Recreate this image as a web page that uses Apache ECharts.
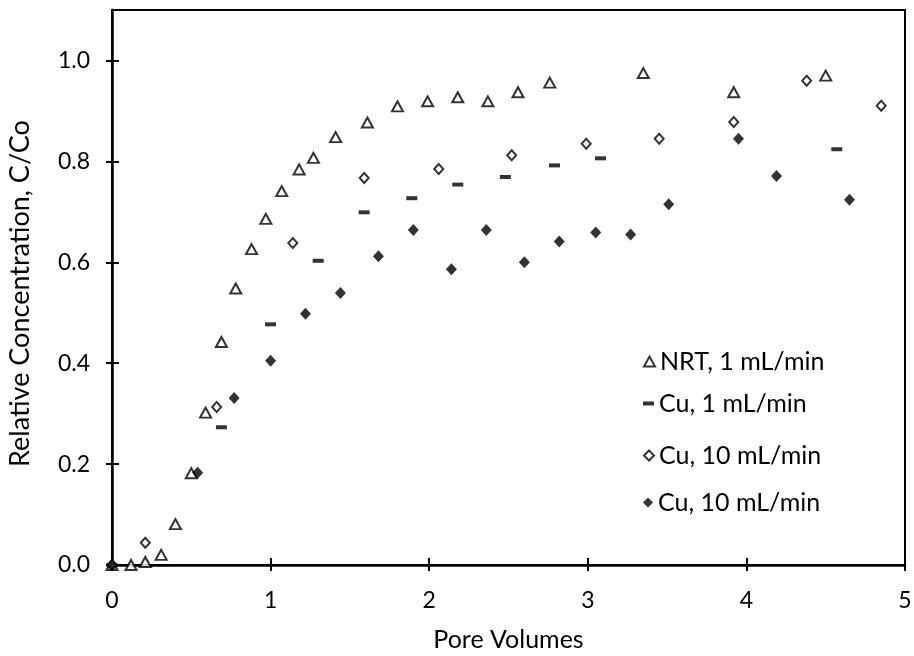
<!DOCTYPE html>
<html>
<head>
<meta charset="utf-8">
<script src="https://cdn.jsdelivr.net/npm/echarts@6/dist/echarts.min.js"></script>
<style>html,body{margin:0;padding:0;background:#fff;}#c{width:914px;height:656px;}</style>
</head>
<body>
<div id="c"></div>
<script>
const seriesNames = ['NRT, 1 mL/min', 'Cu, 1 mL/min', 'Cu, 10 mL/min', 'Cu, 10 mL/min '];
const xTicks = [0, 1, 2, 3, 4, 5];
const yTicks = [0.0, 0.2, 0.4, 0.6, 0.8, 1.0];

const nrtX = [0.00, 0.12, 0.21, 0.31, 0.40, 0.50, 0.59, 0.69, 0.78, 0.88, 0.97, 1.07, 1.18, 1.27, 1.41, 1.61, 1.80, 1.99, 2.18, 2.37, 2.56, 2.76, 3.35, 3.92, 4.50];
const nrtY = [0.00, 0.00, 0.006, 0.020, 0.081, 0.182, 0.302, 0.442, 0.548, 0.626, 0.686, 0.741, 0.784, 0.807, 0.848, 0.877, 0.909, 0.919, 0.927, 0.919, 0.937, 0.956, 0.975, 0.937, 0.970];

const cu1X = [0.00, 0.69, 1.00, 1.30, 1.59, 1.89, 2.18, 2.48, 2.79, 3.08, 4.57];
const cu1Y = [0.00, 0.273, 0.477, 0.603, 0.699, 0.727, 0.754, 0.769, 0.792, 0.806, 0.824];

const cu10aX = [0.00, 0.21, 0.66, 1.14, 1.59, 2.06, 2.52, 2.99, 3.45, 3.92, 4.38, 4.85];
const cu10aY = [0.00, 0.044, 0.313, 0.638, 0.767, 0.785, 0.812, 0.835, 0.845, 0.878, 0.960, 0.910];

const cu10bX = [0.00, 0.54, 0.77, 1.00, 1.22, 1.44, 1.68, 1.90, 2.14, 2.36, 2.60, 2.82, 3.05, 3.27, 3.51, 3.95, 4.19, 4.65];
const cu10bY = [0.00, 0.183, 0.331, 0.405, 0.498, 0.539, 0.612, 0.664, 0.586, 0.664, 0.600, 0.641, 0.659, 0.655, 0.715, 0.845, 0.771, 0.724];

const zip = (xs, ys) => xs.map((x, i) => [x, ys[i]]);
const FONT = 'Lato';

const gridBox = {left: 112, right: 9, top: 10, bottom: 91, outerBoundsMode: 'none', containLabel: false};

const chart = echarts.init(document.getElementById('c'), null, {renderer: 'canvas'});

function legendAt(top, name, w, h) {
  return {
    data: [name], left: 638, top: top, orient: 'vertical',
    itemWidth: w, itemHeight: h, itemGap: 0,
    textStyle: {fontFamily: FONT, fontSize: 25, color: '#000'},
    formatter: n => n.trim(), selectedMode: false
  };
}

chart.setOption({
  animation: false,
  backgroundColor: '#fff',
  grid: [
    Object.assign({show: true, borderColor: '#000', borderWidth: 2, backgroundColor: 'transparent'}, gridBox),
    Object.assign({show: false}, gridBox)
  ],
  legend: [
    legendAt(344, seriesNames[0], 11, 10),
    legendAt(386, seriesNames[1], 11, 4),
    legendAt(438, seriesNames[2], 10, 10),
    legendAt(485, seriesNames[3], 10, 10)
  ],
  xAxis: [{
    type: 'value', gridIndex: 0, min: 0, max: 5, interval: 1,
    name: 'Pore Volumes', nameLocation: 'middle', nameGap: 62,
    nameTextStyle: {fontFamily: FONT, fontSize: 25, color: '#000'},
    axisLine: {show: true, onZero: false, lineStyle: {color: '#000', width: 2.5}},
    axisTick: {show: true, length: 6, lineStyle: {color: '#000', width: 2}},
    axisLabel: {fontFamily: FONT, fontSize: 23, color: '#000', margin: 24, formatter: v => String(v)},
    splitLine: {show: false}
  }, {
    type: 'value', gridIndex: 1, min: 0, max: 5, interval: 1, position: 'bottom',
    axisLine: {show: false}, axisLabel: {show: false}, splitLine: {show: false},
    axisTick: {show: true, inside: true, length: 7, lineStyle: {color: '#000', width: 2}}
  }],
  yAxis: [{
    type: 'value', gridIndex: 0, min: 0, max: 1.1, interval: 0.2,
    name: 'Relative Concentration, C/Co', nameLocation: 'middle', nameGap: 78,
    nameTextStyle: {fontFamily: FONT, fontSize: 27, color: '#000', padding: [0, 12, 0, 0]},
    axisLine: {show: true, onZero: false, lineStyle: {color: '#000', width: 2.5}},
    axisTick: {show: true, length: 6, lineStyle: {color: '#000', width: 2}},
    axisLabel: {fontFamily: FONT, fontSize: 23, color: '#000', margin: 22, showMaxLabel: false,
      formatter: v => (yTicks.some(t => Math.abs(t - v) < 1e-6) ? v.toFixed(1) : '')},
    splitLine: {show: false}
  }, {
    type: 'value', gridIndex: 1, min: 0, max: 1.1, interval: 0.2, position: 'left',
    axisLine: {show: false}, axisLabel: {show: false}, splitLine: {show: false},
    axisTick: {show: true, inside: true, length: 7, lineStyle: {color: '#000', width: 2}}
  }],
  series: [{
    name: seriesNames[0], type: 'scatter', clip: false, z: 3,
    symbol: 'triangle', symbolSize: [11, 10],
    itemStyle: {color: '#fff', borderColor: '#000', borderWidth: 2},
    data: zip(nrtX, nrtY)
  }, {
    name: seriesNames[1], type: 'scatter', clip: false, z: 3,
    symbol: 'rect', symbolSize: [11, 4],
    itemStyle: {color: '#000', borderWidth: 0},
    data: zip(cu1X, cu1Y)
  }, {
    name: seriesNames[2], type: 'scatter', clip: false, z: 3,
    symbol: 'diamond', symbolSize: [9, 10],
    itemStyle: {color: '#fff', borderColor: '#000', borderWidth: 2},
    data: zip(cu10aX, cu10aY)
  }, {
    name: seriesNames[3], type: 'scatter', clip: false, z: 3,
    symbol: 'diamond', symbolSize: [11, 12],
    itemStyle: {color: '#000', borderWidth: 0},
    data: zip(cu10bX, cu10bY)
  }]
});
</script>
</body>
</html>
